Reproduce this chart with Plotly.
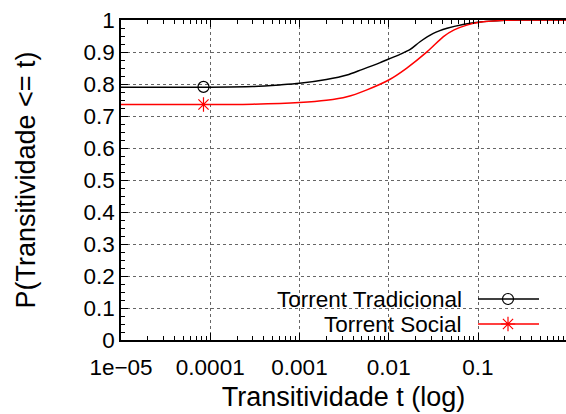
import plotly.graph_objects as go

# Data
t_trad = [1e-5, 1e-4, 3e-4, 6e-4, 1e-3, 2e-3, 3.4e-3, 5e-3, 7.9e-3, 1e-2, 1.4e-2,
          1.74e-2, 2.24e-2, 3.16e-2, 4.5e-2, 6.8e-2, 1e-1, 2e-1, 3e-1, 1.0]
p_trad = [0.790, 0.790, 0.792, 0.797, 0.802, 0.814, 0.828, 0.845, 0.866, 0.878, 0.895,
          0.908, 0.932, 0.958, 0.974, 0.986, 0.993, 0.999, 1.0, 1.0]

t_soc = [1e-5, 1e-4, 3e-4, 1e-3, 2e-3, 3.4e-3, 5.6e-3, 1e-2, 1.58e-2, 2.7e-2,
         4.1e-2, 5.4e-2, 7.5e-2, 1e-1, 2e-1, 3e-1, 1.0]
p_soc = [0.736, 0.736, 0.737, 0.742, 0.749, 0.760, 0.781, 0.8125, 0.849, 0.901,
         0.948, 0.969, 0.984, 0.992, 0.999, 1.0, 1.0]

marker_t = [8.4e-5]
marker_trad = [0.791]
marker_soc = [0.736]

series_names = ["Torrent Tradicional", "Torrent Social"]
y_ticks = [0, 0.1, 0.2, 0.3, 0.4, 0.5, 0.6, 0.7, 0.8, 0.9, 1]
y_ticktext = ["0", "0.1", "0.2", "0.3", "0.4", "0.5", "0.6", "0.7", "0.8", "0.9", "1"]
x_ticks = [1e-5, 1e-4, 1e-3, 1e-2, 1e-1]
x_ticktext = ["1e\u221205", "0.0001", "0.001", "0.01", "0.1"]

FONT = "Liberation Sans, Arial, Helvetica, sans-serif"
W, H = 566, 414
L, R, T, B = 121, 0, 20, 74
PW, PH = W - L - R, H - T - B

def px_x(px):
    return (px - L) / PW

def px_y(py):
    return (H - B - py) / PH

fig = go.Figure()
fig.add_trace(go.Scatter(x=t_trad, y=p_trad, mode="lines",
                         line=dict(color="black", width=1.5, shape="spline", smoothing=0.8),
                         showlegend=False))
fig.add_trace(go.Scatter(x=t_soc, y=p_soc, mode="lines",
                         line=dict(color="#ff0000", width=1.5, shape="spline", smoothing=0.8),
                         showlegend=False))
fig.add_trace(go.Scatter(x=marker_t, y=marker_trad, mode="markers",
                         marker=dict(symbol="circle-open", size=11, color="black",
                                     line=dict(width=1.2)), showlegend=False))
fig.add_trace(go.Scatter(x=marker_t, y=marker_soc, mode="markers",
                         marker=dict(symbol="asterisk-open", size=12, color="#ff0000",
                                     line=dict(width=1.2, color="#ff0000")), showlegend=False))

# legend samples on an overlay axis in plot-fraction units
leg_rows = [299, 324]
leg_colors = ["black", "#ff0000"]
leg_symbols = ["circle-open", "asterisk-open"]
for name, row, col, sym in zip(series_names, leg_rows, leg_colors, leg_symbols):
    fig.add_trace(go.Scatter(x=[px_x(478), px_x(539)], y=[px_y(row), px_y(row)],
                             mode="lines", line=dict(color=col, width=1.5),
                             xaxis="x2", yaxis="y2", showlegend=False))
    fig.add_trace(go.Scatter(x=[px_x(508)], y=[px_y(row)], mode="markers",
                             marker=dict(symbol=sym, size=11 if sym.startswith("circle") else 12,
                                         color=col, line=dict(width=1.2, color=col)),
                             xaxis="x2", yaxis="y2", showlegend=False))
    fig.add_annotation(x=px_x(463), y=px_y(row), xref="x2", yref="y2", text=name,
                       showarrow=False, xanchor="right", yanchor="middle",
                       borderpad=0, font=dict(family=FONT, size=22.5, color="black"))

# opaque legend box over the grid
fig.add_shape(type="rect", xref="paper", yref="paper",
              x0=px_x(195), x1=px_x(555), y0=px_y(334), y1=px_y(288),
              fillcolor="white", line=dict(width=0), layer="between")

fig.update_layout(
    width=W, height=H,
    margin=dict(l=L, r=R, t=T, b=B, pad=0),
    paper_bgcolor="white", plot_bgcolor="white",
    font=dict(family=FONT, size=22.5, color="black"),
    xaxis=dict(type="log", range=[-5, -5 + (PW / 89.25)],
               tickvals=x_ticks, ticktext=x_ticktext,
               ticks="inside", ticklen=7, tickwidth=1, tickcolor="black",
               showline=True, linecolor="black", linewidth=1.5, mirror="allticks",
               showgrid=True, gridcolor="#666", griddash="dot", gridwidth=1,
               minor=dict(ticks="inside", ticklen=4, tickcolor="black", dtick="D1",
                          showgrid=False),
               ticklabelstandoff=6, zeroline=False,
               title=dict(text="Transitividade t (log)", font=dict(size=27), standoff=8)),
    yaxis=dict(range=[0, 1], tickvals=y_ticks, ticktext=y_ticktext,
               ticks="inside", ticklen=7, tickwidth=1, tickcolor="black",
               showline=True, linecolor="black", linewidth=1.5, mirror=False,
               showgrid=True, gridcolor="#666", griddash="dot", gridwidth=1,
               minor=dict(ticks="inside", ticklen=4, tickcolor="black", dtick=0.025,
                          showgrid=False),
               ticklabelstandoff=0, zeroline=False,
               title=dict(text="P(Transitividade <= t)", font=dict(size=27), standoff=40)),
    xaxis2=dict(overlaying="x", range=[0, 1], visible=False),
    yaxis2=dict(overlaying="y", range=[0, 1], visible=False),
)

fig.write_html("out.html")
